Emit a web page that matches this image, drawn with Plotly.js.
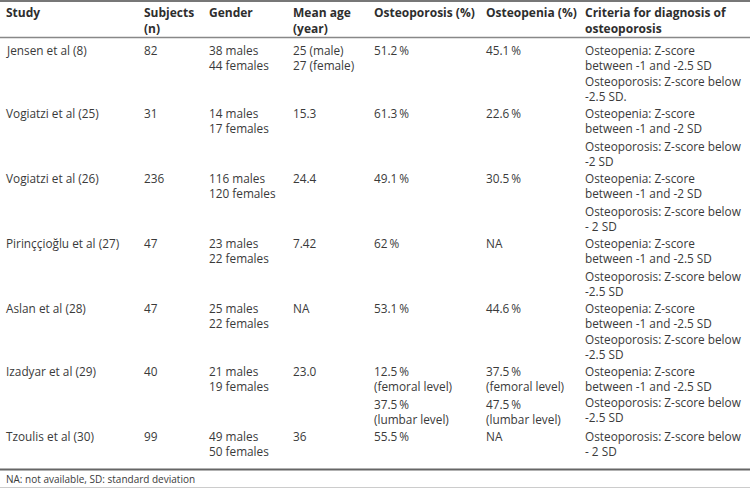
<!DOCTYPE html>
<html>
<head>
<meta charset="utf-8">
<script src="https://cdn.plot.ly/plotly-3.0.1.min.js"></script>
<style>html,body{margin:0;padding:0;background:#fff;}#chart{width:750px;height:488px;}</style>
</head>
<body>
<div id="chart"></div>
<script>
// ---- data ----
const headers = [['Study'], ['Subjects', '(n)'], ['Gender'], ['Mean age', '(year)'],
  ['Osteoporosis (%)'], ['Osteopenia (%)'], ['Criteria for diagnosis of', 'osteoporosis']];
const studies = ['Jensen et al (8)', 'Vogiatzi et al (25)', 'Vogiatzi et al (26)',
  'Pirinççioğlu et al (27)', 'Aslan et al (28)', 'Izadyar et al (29)', 'Tzoulis et al (30)'];
const subjects = [82, 31, 236, 47, 47, 40, 99];
const males = [38, 14, 116, 23, 25, 21, 49];
const females = [44, 17, 120, 22, 22, 19, 50];
const meanAge = [[['25 (male)', '27 (female)']], [['15.3']], [['24.4']], [['7.42']], [['NA']], [['23.0']], [['36']]];
const osteoporosis = [[['51.2\u2009%']], [['61.3\u2009%']], [['49.1\u2009%']], [['62\u2009%']], [['53.1\u2009%']],
  [['12.5\u2009%', '(femoral level)'], ['37.5\u2009%', '(lumbar level)']], [['55.5\u2009%']]];
const osteopenia = [[['45.1\u2009%']], [['22.6\u2009%']], [['30.5\u2009%']], [['NA']], [['44.6\u2009%']],
  [['37.5\u2009%', '(femoral level)'], ['47.5\u2009%', '(lumbar level)']], [['NA']]];
const criteria = [
  [['Osteopenia: Z-score', 'between -1 and -2.5 SD', 'Osteoporosis: Z-score below', '-2.5 SD.']],
  [['Osteopenia: Z-score', 'between -1 and -2 SD'], ['Osteoporosis: Z-score below', '-2 SD']],
  [['Osteopenia: Z-score', 'between -1 and -2 SD'], ['Osteoporosis: Z-score below', '- 2 SD']],
  [['Osteopenia: Z-score', 'between -1 and -2.5 SD'], ['Osteoporosis: Z-score below', '-2.5 SD']],
  [['Osteopenia: Z-score', 'between -1 and -2.5 SD', 'Osteoporosis: Z-score below', '-2.5 SD']],
  [['Osteopenia: Z-score', 'between -1 and -2.5 SD', 'Osteoporosis: Z-score below', '-2.5 SD']],
  [['Osteoporosis: Z-score below', '- 2 SD']]
];
const footnote = 'NA: not available, SD: standard deviation';

// ---- layout parameters ----
const colX = [5, 143, 208, 292, 373, 485, 584];
const BODY_SIZE = 11.8;
const LH = 1.3 * BODY_SIZE, PG = 2.6, RG = 1.2, Y0 = 50;
const HEAD_SIZE = 12;
const headerY0 = 12.7;
const FONT = '"Open Sans", sans-serif';
const bodyFont = {family: FONT, size: BODY_SIZE, color: '#3a3a3a'};
const headFont = {family: FONT, size: HEAD_SIZE, color: '#2e2e2e', weight: 'bold'};

const annotations = [];
function addText(x, yFirst, lines, font, lh, bold) {
  const txt = lines.map(t => bold ? '<b>' + t + '</b>' : t).join('<br>');
  annotations.push({x: x, y: yFirst + (lines.length - 1) * lh / 2, xref: 'x', yref: 'y',
    text: txt, showarrow: false, xanchor: 'left', yanchor: 'middle', align: 'left',
    font: font, borderpad: 0});
}

headers.forEach((h, c) => addText(colX[c], headerY0, h, headFont, 1.3 * HEAD_SIZE, true));

let yStart = Y0;
studies.forEach((s, i) => {
  const cells = [
    [[s]],
    [[String(subjects[i])]],
    [[males[i] + ' males', females[i] + ' females']],
    meanAge[i], osteoporosis[i], osteopenia[i], criteria[i]
  ];
  let rowH = 0;
  cells.forEach((paras, c) => {
    let y = yStart;
    paras.forEach((lines, p) => {
      if (p > 0) y += PG;
      addText(colX[c], y, lines, bodyFont, LH, false);
      y += lines.length * LH;
    });
    rowH = Math.max(rowH, y - yStart);
  });
  yStart += rowH + RG;
});

addText(colX[0], 479, [footnote], {family: FONT, size: 10, color: '#3a3a3a'}, 13, false);

const shapes = [
  {y: 1, color: '#777', w: 2},
  {y: 37.5, color: '#888', w: 1.5},
  {y: 469.5, color: '#666', w: 2},
  {y: 487.5, color: '#ccc', w: 1}
].map(l => ({type: 'line', xref: 'x', yref: 'y', x0: 0, x1: 750, y0: l.y, y1: l.y,
  line: {color: l.color, width: l.w}}));

Plotly.newPlot('chart', [], {
  width: 750, height: 488,
  margin: {l: 0, r: 0, t: 0, b: 0},
  paper_bgcolor: '#fff', plot_bgcolor: '#fff',
  xaxis: {range: [0, 750], visible: false, fixedrange: true},
  yaxis: {range: [488, 0], visible: false, fixedrange: true},
  showlegend: false,
  annotations: annotations,
  shapes: shapes
}, {staticPlot: true, displayModeBar: false});
</script>
</body>
</html>
